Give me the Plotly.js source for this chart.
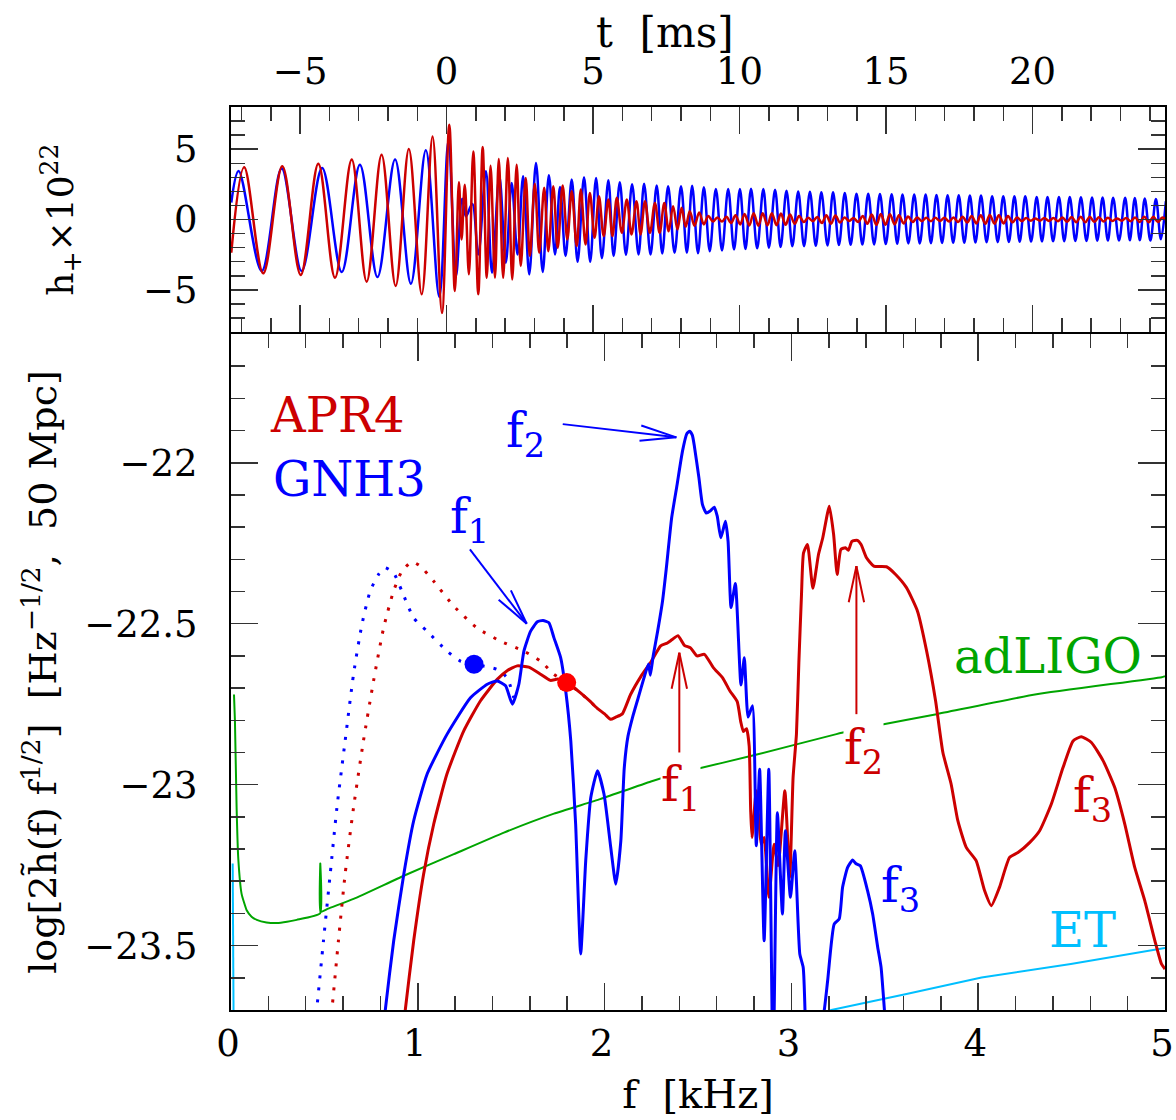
<!DOCTYPE html>
<html><head><meta charset="utf-8">
<script src="https://cdn.plot.ly/plotly-3.0.1.min.js"></script>
<style>html,body{margin:0;padding:0;background:#fff;}</style>
</head><body>
<div id="chart" style="width:1176px;height:1120px;"></div>
<script>
// ---------- top panel: strain h+ x 1e22 vs t [ms] (extrema) ----------
const gnhT = [-7.35,-7.1,-6.31,-5.63,-4.95,-4.25,-3.58,-2.96,-2.36,-1.76,
 -1.22,-0.71,-0.25,0.06,0.32,0.53,0.66,0.875,1.08,1.34,
 1.55,1.8,2.02,2.22,2.42,2.61,2.82,3.05,3.28,3.49,
 3.7,3.87,4.06,4.27,4.47,4.69,4.9,5.1,5.3,5.52,
 5.7,5.91,6.12,6.33,6.55,6.74,6.96,7.17,7.36,7.56,
 7.78,8.0,8.2,8.38,8.58,8.78,8.98,9.19,9.4,9.61,
 9.81,10.01,10.2,10.39,10.6,10.81,11.0,11.21,11.4,11.6,
 11.8,12.0,12.2,12.4,12.6,12.79,13.0,13.19,13.39,13.59,
 13.79,13.99,14.19,14.39,14.59,14.79,14.99,15.19,15.38,15.56,
 15.76,15.96,16.15,16.35,16.53,16.72,16.91,17.1,17.29,17.48,
 17.67,17.86,18.05,18.24,18.43,18.62,18.81,19.0,19.19,19.38,
 19.56,19.75,19.95,20.14,20.32,20.51,20.7,20.9,21.08,21.27,
 21.46,21.65,21.84,22.03,22.21,22.39,22.57,22.75,22.95,23.16,
 23.32,23.49,23.66,23.83,24.02,24.21,24.38,24.55];
const gnhH = [1.2,3.45,-3.66,3.62,-3.66,3.66,-3.73,3.9,-4.09,4.26,
 -4.56,4.92,-5.5,5.6,-4.02,1.47,0.23,1.11,-2.48,3.43,
 -3.78,3.07,-3.07,2.6,-2.48,3.07,-3.9,4.02,-3.73,3.14,
 -2.48,2.32,-2.6,2.84,-3.0,3.0,-3.0,2.96,-2.75,2.8,
 -2.6,2.65,-2.5,2.5,-2.48,2.55,-2.48,2.42,-2.42,2.36,
 -2.36,2.36,-2.36,2.4,-2.4,2.3,-2.25,2.17,-2.2,2.17,
 -2.13,2.17,-2.1,2.19,-2.05,2.17,-2.0,2.12,-1.95,2.05,
 -1.9,2.0,-1.9,1.98,-1.87,1.94,-1.85,1.94,-1.82,1.89,
 -1.8,1.84,-1.78,1.84,-1.77,1.82,-1.75,1.8,-1.72,1.77,
 -1.7,1.77,-1.7,1.77,-1.69,1.75,-1.67,1.72,-1.66,1.72,
 -1.65,1.7,-1.63,1.7,-1.62,1.65,-1.61,1.65,-1.6,1.65,
 -1.58,1.65,-1.57,1.6,-1.56,1.6,-1.55,1.6,-1.54,1.6,
 -1.53,1.58,-1.52,1.57,-1.51,1.56,-1.5,1.54,-1.49,1.54,
 -1.48,1.53,-1.47,1.5,-1.5,1.45,-1.4,1.3];
const aprT = [-7.35,-6.91,-6.26,-5.61,-4.98,-4.38,-3.81,-3.24,-2.73,-2.22,
 -1.74,-1.29,-0.85,-0.48,-0.16,0.09,0.28,0.42,0.51,0.62,
 0.76,0.91,1.08,1.23,1.37,1.5,1.65,1.78,1.93,2.09,
 2.24,2.39,2.53,2.7,2.84,3.01,3.16,3.33,3.47,3.64,
 3.79,3.96,4.12,4.27,4.44,4.58,4.74,4.89,5.05,5.2,
 5.36,5.52,5.66,5.81,5.98,6.15,6.31,6.48,6.62,6.77,
 6.94,7.11,7.27,7.43,7.58,7.73,7.88,8.02,8.16,8.3,
 8.46,8.62,8.78,8.93,9.09,9.24,9.4,9.55,9.71,9.86,
 10.02,10.17,10.33,10.48,10.64,10.79,10.95,11.1,11.26,11.41,
 11.57,11.72,11.88,12.03,12.19,12.34,12.5,12.65,12.81,12.96,
 13.12,13.27,13.43,13.58,13.74,13.89,14.05,14.2,14.36,14.51,
 14.67,14.82,14.98,15.13,15.29,15.44,15.6,15.75,15.91,16.06,
 16.22,16.37,16.53,16.68,16.84,16.99,17.15,17.3,17.46,17.61,
 17.77,17.92,18.08,18.23,18.39,18.54,18.7,18.85,19.01,19.16,
 19.32,19.47,19.63,19.78,19.94,20.09,20.25,20.4,20.56,20.71,
 20.87,21.02,21.18,21.33,21.49,21.64,21.8,21.95,22.11,22.26,
 22.42,22.57,22.73,22.88,23.04,23.19,23.35,23.5,23.66,23.81,
 23.97,24.12,24.28,24.43,24.58];
const aprH = [-2.36,3.71,-3.83,3.78,-3.94,3.97,-4.14,4.26,-4.42,4.61,
 -4.73,5.01,-5.32,5.91,-6.65,6.74,-5.08,2.65,-1.42,2.48,
 -3.9,4.84,-5.32,5.15,-4.14,3.83,-4.14,4.3,-4.14,4.37,
 -4.26,3.9,-3.31,2.96,-2.6,2.55,-2.36,2.25,-2.25,2.36,
 -2.01,2.41,-1.42,2.01,-1.89,2.13,-1.77,1.89,-1.3,1.65,
 -1.18,1.42,-1.18,1.54,-0.95,1.42,-1.06,1.3,-1.06,1.3,
 -0.95,1.18,-0.95,1.18,-0.83,0.95,-0.71,0.83,-0.52,0.59,
 -0.45,0.5,-0.35,0.25,-0.15,0.15,-0.15,0.2,-0.25,0.3,
 -0.35,0.4,-0.42,0.45,-0.45,0.45,-0.42,0.45,-0.4,0.42,
 -0.38,0.35,-0.3,0.25,-0.18,0.12,-0.12,0.18,-0.25,0.3,
 -0.3,0.28,-0.22,0.15,-0.1,0.1,-0.18,0.25,-0.3,0.35,
 -0.38,0.4,-0.38,0.38,-0.35,0.3,-0.28,0.22,-0.18,0.15,
 -0.12,0.12,-0.12,0.12,-0.1,0.12,-0.14,0.15,-0.18,0.2,
 -0.22,0.25,-0.28,0.3,-0.3,0.32,-0.3,0.3,-0.28,0.25,
 -0.2,0.15,-0.12,0.1,-0.08,0.08,-0.08,0.1,-0.1,0.1,
 -0.12,0.14,-0.16,0.18,-0.2,0.2,-0.2,0.2,-0.18,0.16,
 -0.14,0.12,-0.1,0.08,-0.08,0.1,-0.12,0.15,-0.18,0.2,
 -0.2,0.2,-0.18,0.15,-0.1];

// ---------- bottom panel: log[2 h~(f) f^1/2] vs f [kHz] ----------
const gnh3F = [0.82,0.826,0.871,0.925,0.978,1.05,1.157,1.282,1.372,1.425,
 1.47,1.506,1.541,1.568,1.604,1.64,1.67,1.702,1.729,1.765,
 1.792,1.819,1.845,1.872,1.899,1.926,1.962,1.997,2.033,2.06,
 2.087,2.105,2.125,2.15,2.18,2.21,2.235,2.245,2.26,2.284,
 2.31,2.33,2.359,2.388,2.417,2.44,2.456,2.47,2.481,2.505,
 2.524,2.544,2.565,2.587,2.603,2.622,2.647,2.661,2.677,2.7,
 2.73,2.748,2.768,2.792,2.812,2.83,2.854,2.879,2.902,2.925,
 2.952,2.968,2.995,3.018,3.045,3.063,3.075,null,3.158,3.176,
 3.194,3.229,3.256,3.274,3.301,3.328,3.345,3.369,3.408,3.435,
 3.462,3.48,3.498,3.505];
const gnh3V = [-23.75,-23.70,-23.485,-23.278,-23.112,-22.967,-22.843,-22.73,-22.688,-22.678,
 -22.693,-22.75,-22.688,-22.585,-22.523,-22.494,-22.49,-22.497,-22.544,-22.606,
 -22.709,-22.864,-23.123,-23.526,-23.236,-23.04,-22.957,-23.03,-23.195,-23.309,
 -23.174,-22.95,-22.85,-22.79,-22.73,-22.67,-22.625,-22.66,-22.6,-22.523,
 -22.43,-22.33,-22.171,-22.068,-21.964,-21.91,-21.902,-21.915,-21.95,-22.047,
 -22.13,-22.156,-22.15,-22.138,-22.166,-22.233,-22.182,-22.244,-22.45,-22.375,
 -22.69,-22.606,-22.79,-22.755,-23.19,-22.952,-23.485,-22.952,-23.9,-23.087,
 -23.402,-23.143,-23.35,-23.205,-23.526,-23.567,-23.75,null,-23.75,-23.70,
 -23.609,-23.433,-23.417,-23.319,-23.257,-23.234,-23.245,-23.252,-23.33,-23.402,
 -23.505,-23.567,-23.70,-23.75];
const apr4F = [0.925,0.933,0.978,1.031,1.085,1.156,1.246,1.335,1.425,1.48,
 1.532,1.594,1.657,1.71,1.75,1.8,1.871,1.92,1.961,2.0,
 2.032,2.06,2.095,2.139,2.193,2.251,2.3,2.336,2.36,2.393,
 2.427,2.46,2.495,2.534,2.583,2.632,2.671,2.71,2.729,2.743,
 2.76,2.774,2.782,2.789,2.812,2.839,2.854,2.88,2.907,2.929,
 2.965,2.991,3.009,3.027,3.04,3.054,3.065,3.086,3.115,3.145,
 3.168,3.203,3.226,3.245,3.265,3.289,3.305,3.324,3.353,3.373,
 3.402,3.441,3.509,3.558,3.616,3.675,3.724,3.772,3.811,3.855,
 3.891,3.936,3.989,4.034,4.07,4.114,4.168,4.213,4.275,4.329,
 4.391,4.454,4.508,4.552,4.606,4.669,4.731,4.785,4.838,4.892,
 4.946,4.981,5.0];
const apr4V = [-23.75,-23.70,-23.485,-23.278,-23.123,-22.967,-22.833,-22.74,-22.673,-22.645,
 -22.631,-22.635,-22.657,-22.676,-22.672,-22.683,-22.715,-22.74,-22.763,-22.78,
 -22.797,-22.79,-22.78,-22.72,-22.665,-22.616,-22.569,-22.56,-22.55,-22.537,
 -22.567,-22.575,-22.6,-22.595,-22.637,-22.668,-22.709,-22.742,-22.805,-22.835,
 -22.826,-22.88,-23.08,-23.164,-23.019,-23.185,-23.164,-23.35,-23.185,-23.252,
 -23.019,-23.288,-22.978,-22.843,-22.62,-22.41,-22.28,-22.254,-22.39,-22.285,
 -22.233,-22.135,-22.223,-22.347,-22.269,-22.264,-22.272,-22.244,-22.241,-22.254,
 -22.295,-22.321,-22.323,-22.347,-22.388,-22.461,-22.585,-22.74,-22.9,-22.998,
 -23.112,-23.195,-23.236,-23.329,-23.376,-23.319,-23.226,-23.211,-23.18,-23.143,
 -23.061,-22.947,-22.864,-22.851,-22.869,-22.926,-23.009,-23.123,-23.257,-23.361,
 -23.485,-23.557,-23.573];
// inspiral-only (dotted) spectra
const gnh3InspF = [0.452,0.459,0.495,0.531,0.567,0.611,0.656,0.701,0.745,0.79,
 0.822,0.87,0.915,0.978,1.049,1.157,1.228,1.301,1.425,1.478,1.514];
const gnh3InspV = [-23.75,-23.70,-23.485,-23.278,-23.071,-22.864,-22.657,-22.502,-22.399,-22.347,
 -22.326,-22.342,-22.399,-22.482,-22.523,-22.585,-22.616,-22.626,-22.642,-22.668,-22.73];
const apr4InspF = [0.53,0.54,0.575,0.611,0.656,0.709,0.763,0.817,0.87,0.915,
 0.969,1.013,1.085,1.192,1.317,1.442,1.567,1.657,1.728,1.797,1.871,1.961];
const apr4InspV = [-23.75,-23.70,-23.485,-23.278,-23.071,-22.864,-22.678,-22.513,-22.399,-22.337,
 -22.308,-22.321,-22.368,-22.445,-22.513,-22.554,-22.585,-22.616,-22.657,-22.683,-22.715,-22.763];
// contact-frequency dots
const dotF = [1.301, 1.797];
const dotV = [-22.626, -22.683];
// detector sensitivity curves
const adligoF = [0.016,0.021,0.03,0.039,0.057,0.084,0.11,0.138,0.19,0.245,
 0.3,0.352,0.477,0.478,0.479,0.52,0.656,0.925,1.193,1.461,
 1.729,1.976,2.248,2.453,2.804,3.241,3.445,3.777,4.312,4.983,5.0];
const adligoV = [-22.72,-22.80,-23.07,-23.23,-23.34,-23.39,-23.41,-23.42,-23.428,-23.43,
 -23.426,-23.42,-23.40,-23.245,-23.395,-23.385,-23.355,-23.283,-23.216,-23.149,
 -23.09,-23.045,-22.99,-22.957,-22.908,-22.843,-22.818,-22.781,-22.719,-22.666,-22.663];
const etF = [0.009,0.011,0.014,null,3.19,3.214,3.616,4.018,4.496,5.0];
const etV = [-23.245,-23.45,-23.75,null,-23.705,-23.70,-23.65,-23.599,-23.557,-23.507];

// annotation arrows: [tailF, tailV, tipF, tipV]
const arrowBlueF1 = [1.279,-22.269,1.583,-22.5];
const arrowBlueF2 = [1.776,-21.88,2.384,-21.921];
const arrowRedF1 = [2.4,-22.9,2.4,-22.59];
const arrowRedF2 = [3.348,-22.781,3.348,-22.321];

const FONT = 'DejaVu Serif, serif';
const BLUE = '#0000ff', RED = '#cc0000', GREEN = 'rgb(0,165,0)', CYAN = 'rgb(0,191,255)';

const PX_F = 934/5, PX_V = 677/2.1;
function arrowShapes(a, color){
  const [x0,y0,x1,y1] = a;
  const dx=(x0-x1)*PX_F, dy=(y0-y1)*PX_V, L=Math.hypot(dx,dy), ux=dx/L, uy=dy/L;
  const len=37, ang=12*Math.PI/180;
  const out=[{type:'line',xref:'x',yref:'y',x0:x0,y0:y0,x1:x1,y1:y1,line:{color:color,width:2}}];
  [1,-1].forEach(s=>{
    const c=Math.cos(s*ang), sn=Math.sin(s*ang);
    const rx=ux*c-uy*sn, ry=ux*sn+uy*c;
    out.push({type:'line',xref:'x',yref:'y',x0:x1,y0:y1,x1:x1+rx*len/PX_F,y1:y1+ry*len/PX_V,line:{color:color,width:2}});
  });
  return out;
}

const traces = [
  {x:adligoF,y:adligoV,mode:'lines',line:{color:GREEN,width:2,shape:'spline',smoothing:0.4},xaxis:'x',yaxis:'y',hoverinfo:'skip'},
  {x:etF,y:etV,mode:'lines',line:{color:CYAN,width:2},xaxis:'x',yaxis:'y',hoverinfo:'skip'},
  {x:gnh3InspF,y:gnh3InspV,mode:'lines',line:{color:BLUE,width:3,dash:'3px,9px',shape:'spline',smoothing:0.6},xaxis:'x',yaxis:'y'},
  {x:apr4InspF,y:apr4InspV,mode:'lines',line:{color:RED,width:3,dash:'3px,9px',shape:'spline',smoothing:0.6},xaxis:'x',yaxis:'y'},
  {x:apr4F,y:apr4V,mode:'lines',line:{color:RED,width:3,shape:'spline',smoothing:0.5},xaxis:'x',yaxis:'y'},
  {x:gnh3F,y:gnh3V,mode:'lines',line:{color:BLUE,width:3,shape:'spline',smoothing:0.5},xaxis:'x',yaxis:'y'},
  {x:dotF,y:dotV,mode:'markers',marker:{color:[BLUE,'#ff0000'],size:19},xaxis:'x',yaxis:'y'},
  {x:gnhT,y:gnhH,mode:'lines',line:{color:BLUE,width:2.5,shape:'spline',smoothing:1},xaxis:'x2',yaxis:'y2'},
  {x:aprT,y:aprH,mode:'lines',line:{color:RED,width:2.5,shape:'spline',smoothing:1},xaxis:'x2',yaxis:'y2'}
];

const tickBase = {ticks:'inside',ticklen:27,tickwidth:1.5,tickcolor:'#333',showline:true,linecolor:'#000',linewidth:2,
  mirror:'allticks',showgrid:false,zeroline:false,tickfont:{family:FONT,size:37,color:'#000'}};
const minorBase = {ticks:'inside',ticklen:14,tickwidth:1.5,tickcolor:'#333',showgrid:false};
const SPLIT = 677/903, PXD = 1/903;

function lab(text, x, y, color, bg){
  const a = {text:text,x:x,y:y,xref:'x',yref:'y',showarrow:false,xanchor:'left',yanchor:'middle',
    font:{family:FONT,size:48,color:color},borderpad:0};
  if(bg) a.bgcolor='#ffffff';
  return a;
}

const layout = {
  width:1176,height:1120,margin:{l:231,r:11,t:107,b:110},
  paper_bgcolor:'#fff',plot_bgcolor:'#fff',showlegend:false,
  font:{family:FONT,color:'#000'},
  xaxis:Object.assign({},tickBase,{domain:[0,1],anchor:'y',range:[0,5.00001],tick0:0,dtick:1,
    minor:Object.assign({},minorBase,{tick0:0,dtick:0.2}),ticklabelstandoff:0,
    ticklabelshift:-3,ticklabeloverflow:'allow',
    title:{text:'f\u00a0\u00a0[kHz]',font:{family:FONT,size:40,color:'#000'},standoff:16}}),
  yaxis:Object.assign({},tickBase,{domain:[0,SPLIT-PXD],anchor:'x',range:[-23.7,-21.6],tick0:-22,dtick:0.5,
    minor:Object.assign({},minorBase,{tick0:-22,dtick:0.1}),ticklabelstandoff:24,
    title:{text:'log[2h\u0303(f) f<sup>1/2</sup>]\u00a0\u00a0[Hz<sup>\u22121/2</sup>,\u00a0\u00a050\u00a0Mpc]',font:{family:FONT,size:38,color:'#000'},standoff:16}}),
  xaxis2:Object.assign({},tickBase,{domain:[0,1],anchor:'y2',side:'top',range:[-7.36,24.52],tick0:0,dtick:5,
    minor:Object.assign({},minorBase,{tick0:0,dtick:1}),ticklabelstandoff:6}),
  yaxis2:Object.assign({},tickBase,{domain:[SPLIT+PXD,1],anchor:'x2',range:[-8,8],tick0:0,dtick:5,
    minor:Object.assign({},minorBase,{tick0:0,dtick:1}),ticklabelstandoff:24,
    title:{text:'h<sub>+</sub>\u00d710<sup>22</sup>',font:{family:FONT,size:36,color:'#000'},standoff:58}}),
  shapes:[].concat(arrowShapes(arrowBlueF1,BLUE),arrowShapes(arrowBlueF2,BLUE),
                   arrowShapes(arrowRedF1,RED),arrowShapes(arrowRedF2,RED)),
  annotations:[
    {text:'t\u00a0\u00a0[ms]',xref:'paper',yref:'paper',x:(665-231)/934,y:(1010-32)/903,
     xanchor:'center',yanchor:'middle',showarrow:false,font:{family:FONT,size:42,color:'#000'}},
    lab('APR4',0.203,-21.853,RED),
    lab('GNH3',0.219,-22.05,BLUE),
    lab('f<sub>2</sub>',1.467,-21.909,BLUE),
    lab('f<sub>1</sub>',1.167,-22.175,BLUE),
    lab('f<sub>1</sub>',2.297,-23.008,RED,true),
    lab('f<sub>2</sub>',3.275,-22.895,RED,true),
    lab('f<sub>3</sub>',4.5,-23.044,RED),
    lab('f<sub>3</sub>',3.474,-23.323,BLUE),
    lab('adLIGO',3.865,-22.6,GREEN),
    lab('ET',4.374,-23.452,CYAN)
  ]
};

Plotly.newPlot('chart', traces, layout, {displayModeBar:false, staticPlot:true});
</script>
</body></html>
